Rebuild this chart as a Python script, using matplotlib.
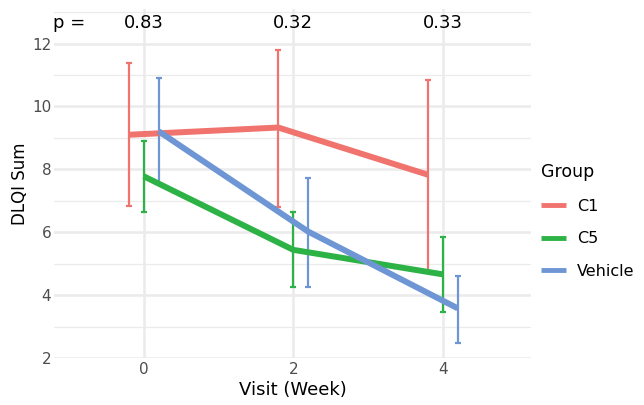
import matplotlib
matplotlib.use("Agg")
import matplotlib.pyplot as plt
import numpy as np

# DLQI sum by visit week, mean with error bars
weeks = [0, 2, 4]
groups = ["C1", "C5", "Vehicle"]
colors = ["#F0736E", "#2DB246", "#6E96D4"]
dodge = [-0.2, 0.0, 0.2]

means = {
    "C1": [9.10, 9.33, 7.83],
    "C5": [7.78, 5.44, 4.66],
    "Vehicle": [9.21, 6.02, 3.58],
}
upper = {
    "C1": [11.39, 11.81, 10.83],
    "C5": [8.89, 6.64, 5.86],
    "Vehicle": [10.91, 7.72, 4.62],
}
lower = {
    "C1": [6.84, 6.79, 4.78],
    "C5": [6.64, 4.25, 3.45],
    "Vehicle": [7.54, 4.27, 2.49],
}
pvals = ["0.83", "0.32", "0.33"]

fig = plt.figure(figsize=(6.44, 4.05), dpi=100)
ax = fig.add_axes([54/644, 1-358/405, (531-54)/644, (358-9)/405])

grid_col = "#EBEBEB"
for y in np.arange(3, 14, 2):
    ax.axhline(y, color=grid_col, lw=0.9, zorder=0)
for y in np.arange(2, 13, 2):
    ax.axhline(y, color=grid_col, lw=1.8, zorder=0)
for x in weeks:
    ax.axvline(x, color=grid_col, lw=1.8, zorder=0)

for g, c, d in zip(groups, colors, dodge):
    xs = np.array(weeks) + d
    m = np.array(means[g])
    yerr = [m - np.array(lower[g]), np.array(upper[g]) - m]
    ax.errorbar(xs, m, yerr=yerr, fmt="none", ecolor=c, elinewidth=1.6,
                capsize=2, capthick=1.6, zorder=2)
    ax.plot(xs, m, color=c, lw=4.3, solid_joinstyle="round",
            solid_capstyle="butt", label=g, zorder=3)

ax.text(-1.0, 12.66, "p =", ha="center", va="center", fontsize=13)
for x, p in zip(weeks, pvals):
    ax.text(x, 12.66, p, ha="center", va="center", fontsize=13)

ax.set_xlim(-1.2, 5.18)
ax.set_ylim(2.0, 13.1)
ax.set_xticks(weeks)
ax.set_yticks(np.arange(2, 13, 2))
ax.tick_params(length=0, labelsize=11, labelcolor="#4D4D4D")
ax.tick_params(axis="y", pad=2)
ax.tick_params(axis="x", pad=3)
for s in ax.spines.values():
    s.set_visible(False)
ax.set_xlabel("Visit (Week)", fontsize=13, labelpad=3)
ax.set_ylabel("DLQI Sum", fontsize=12, labelpad=2)

leg = ax.legend(title="Group", loc="upper left", bbox_to_anchor=(0.99, 0.60),
                frameon=False, fontsize=11.5, title_fontsize=12.5,
                handlelength=1.6, handletextpad=0.7, labelspacing=1.1,
                alignment="left")
for line in leg.get_lines():
    line.set_linewidth(3.5)

fig.savefig("out.png", dpi=100)
